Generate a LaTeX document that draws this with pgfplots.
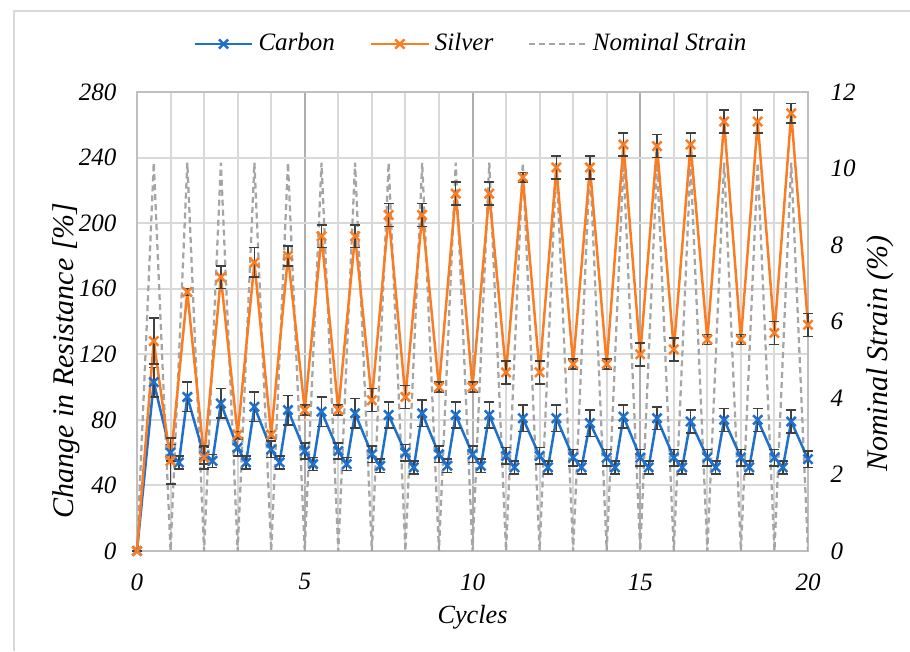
\documentclass[border=0pt]{standalone}
\usepackage{fontspec}
\setmainfont{Liberation Serif}
\usepackage{pgfplots}
\usepackage{pgfplotstable}
\pgfplotsset{compat=1.18}

\definecolor{carbon}{RGB}{30,112,205}
\definecolor{silver}{RGB}{250,125,35}
\definecolor{strainc}{RGB}{165,165,165}
\definecolor{gridc}{RGB}{217,217,217}
\definecolor{framec}{RGB}{191,191,191}
\definecolor{errc}{RGB}{64,64,64}

% cycles, change in resistance, error
\pgfplotstableread{
x y e
0 0 0
0.5 103 9
1 60 5
1.25 54 4
1.5 94 9
2 58 5
2.25 55 4
2.5 90 9
3 63 5
3.25 54 4
3.5 88 9
4 62 5
4.25 54 4
4.5 86 9
5 61 5
5.25 53 4
5.5 85 9
6 61 5
6.25 53 4
6.5 84 9
7 59 5
7.25 52 4
7.5 83 8
8 60 5
8.25 51 4
8.5 84 8
9 59 5
9.25 52 4
9.5 83 8
10 59 5
10.25 52 4
10.5 83 8
11 58 5
11.25 51 4
11.5 81 8
12 58 5
12.25 51 4
12.5 81 8
13 57 5
13.25 51 4
13.5 78 8
14 57 5
14.25 51 4
14.5 82 7
15 57 5
15.25 51 4
15.5 81 7
16 57 5
16.25 51 4
16.5 79 7
17 57 5
17.25 51 4
17.5 80 7
18 57 5
18.25 51 4
18.5 80 7
19 57 5
19.25 51 4
19.5 79 7
20 56 5
}\carbondata

\pgfplotstableread{
x y e
0 0 0
0.5 128 14
1 55 14
1.5 158 2
2 57 7
2.5 167 7
3 71 2
3.5 176 9
4 71 2
4.5 180 6
5 86 3
5.5 192 7
6 86 3
6.5 192 7
7 92 7
7.5 205 7
8 94 7
8.5 205 7
9 100 3
9.5 218 7
10 100 3
10.5 218 7
11 109 7
11.5 228 3
12 109 7
12.5 234 7
13 114 3
13.5 234 7
14 114 3
14.5 248 7
15 120 7
15.5 247 7
16 123 7
16.5 248 7
17 129 3
17.5 262 7
18 129 3
18.5 262 7
19 133 7
19.5 267 6
20 138 7
}\silverdata

% nominal strain in percent
\pgfplotstableread{
x s
0 0
0.5 10.15
1 0
1.5 10.15
2 0
2.5 10.15
3 0
3.5 10.15
4 0
4.5 10.15
5 0
5.5 10.15
6 0
6.5 10.15
7 0
7.5 10.15
8 0
8.5 10.15
9 0
9.5 10.15
10 0
10.5 10.15
11 0
11.5 10.15
12 0
12.5 10.15
13 0
13.5 10.15
14 0
14.5 10.15
15 0
15.5 10.15
16 0
16.5 10.15
17 0
17.5 10.15
18 0
18.5 10.15
19 0
19.5 10.15
20 0
}\straindata

\pgfplotsset{
  base/.style={
    scale only axis, width=268.4pt, height=183.6pt,
    at={(0pt,0pt)}, anchor=south west,
    xmin=0, xmax=20,
    /pgf/number format/assume math mode=true,
    ticklabel style={font=\fontsize{10}{12}\selectfont\itshape},
    label style={font=\fontsize{12}{14}\selectfont\itshape},
    major tick length=0pt, minor tick length=0pt,
  },
  errs/.style={
    error bars/.cd, y dir=both, y explicit,
    error bar style={errc, line width=0.6pt},
    error mark options={errc, rotate=90, mark size=2pt, line width=0.6pt},
  },
}

\begin{document}
\begin{tikzpicture}
\useasboundingbox (-54.8pt,-40pt) rectangle (309.2pt,220.4pt);
\draw[gridc, line width=0.8pt] (-49.2pt,-40pt) -- (-49.2pt,216pt) -- (309.2pt,216pt);

% grid, frame, left and bottom ticks
\begin{axis}[base,
  ymin=0, ymax=280, ytick={0,40,...,280},
  xtick={0,5,...,20}, minor x tick num=4,
  xmajorgrids, xminorgrids, ymajorgrids,
  major x grid style={gridc!80!black, line width=0.8pt},
  minor x grid style={gridc, line width=0.8pt},
  major y grid style={gridc, line width=0.8pt},
  axis line style={framec, line width=0.8pt},
  yticklabel style={xshift=-4.7pt},
  xticklabel style={yshift=-5.5pt},
  xlabel={Cycles},
  ylabel={Change in Resistance [\%]},
  xlabel style={at={(axis description cs:0.5,-0.1438)}, anchor=center,
    font=\fontsize{10.5}{12}\selectfont\itshape},
  ylabel style={at={(axis description cs:-0.1058,0.415)}, anchor=center},
]
\end{axis}

% nominal strain, right axis
\begin{axis}[base,
  ymin=0, ymax=12, ytick={0,2,...,12},
  axis y line*=right, axis x line=none,
  axis line style={framec, line width=0.8pt},
  yticklabel style={xshift=5.5pt},
  ylabel={Nominal Strain (\%)},
  ylabel style={at={(axis description cs:1.1073,0.43)}, anchor=center},
]
\addplot[strainc, dash pattern=on 2.4pt off 1.6pt, line width=0.9pt] table[x=x, y=s] {\straindata};
\end{axis}

% resistance data
\begin{axis}[base,
  ymin=0, ymax=280, hide axis, clip=false,
  legend style={at={(axis description cs:0.5,1.1046)}, anchor=center,
    draw=none, fill=none, font=\fontsize{10}{12}\selectfont\itshape,
    legend columns=3,
    /tikz/every even column/.append style={column sep=12pt}},
  legend image code/.code={\draw[mark repeat=2, mark phase=2] plot coordinates {(0pt,0pt) (11.5pt,0pt) (23pt,0pt)};},
]
\addplot[carbon, line width=1pt, mark=x, mark size=2.6pt, errs] table[x=x, y=y, y error=e] {\carbondata};
\addplot[silver, line width=1pt, mark=x, mark size=2.6pt, errs] table[x=x, y=y, y error=e] {\silverdata};
\addlegendimage{strainc, dash pattern=on 2.4pt off 1.6pt, line width=0.9pt}
\legend{Carbon, Silver, Nominal Strain}
\end{axis}
\end{tikzpicture}
\end{document}
